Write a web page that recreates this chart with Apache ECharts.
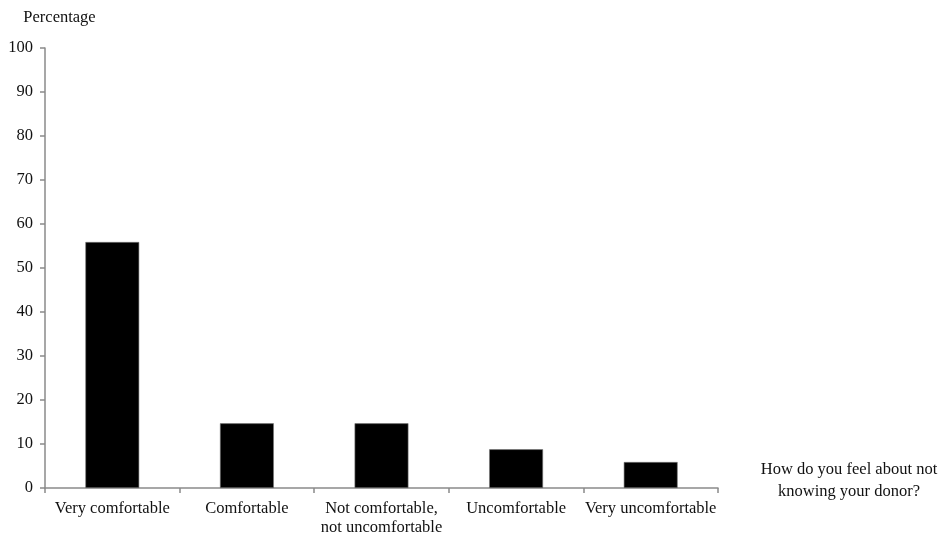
<!DOCTYPE html>
<html>
<head>
<meta charset="utf-8">
<script src="https://cdn.jsdelivr.net/npm/echarts@6/dist/echarts.min.js"></script>
<style>
html,body{margin:0;padding:0;background:#fff;}
#chart{width:941px;height:533px;}
</style>
</head>
<body>
<div id="chart"></div>
<script>
const categories = ['Very comfortable', 'Comfortable', 'Not comfortable,\nnot uncomfortable', 'Uncomfortable', 'Very uncomfortable'];
const percentages = [55.9, 14.7, 14.7, 8.8, 5.9];
const yTicks = { min: 0, max: 100, interval: 10 };
const xAxisTitleLines = ['How do you feel about not', 'knowing your donor?'];
const yAxisTitle = 'Percentage';

const font = '"Liberation Serif", "Times New Roman", serif';
const xAxisTitle = xAxisTitleLines.map(function (s) { return '{t|' + s + '}'; }).join('\n') + '\n{s| }';
const chart = echarts.init(document.getElementById('chart'), null, { renderer: 'canvas' });
chart.setOption({
  animation: false,
  backgroundColor: '#fff',
  grid: { left: 45, right: 223, top: 48, bottom: 45, containLabel: false, outerBoundsMode: 'none' },
  xAxis: {
    type: 'category',
    data: categories,
    name: xAxisTitle,
    nameLocation: 'end',
    nameGap: 131,
    nameTextStyle: {
      fontFamily: font, fontSize: 16.5, color: '#111', align: 'center', verticalAlign: 'middle',
      rich: {
        t: { fontFamily: font, fontSize: 16.5, color: '#111', lineHeight: 22, align: 'center' },
        s: { fontSize: 4, lineHeight: 14 }
      }
    },
    axisLine: { lineStyle: { color: '#8a8a8a', width: 1.5 } },
    axisTick: { show: true, alignWithLabel: false, length: 5, lineStyle: { color: '#8a8a8a', width: 1.5 } },
    axisLabel: { fontFamily: font, fontSize: 16.5, color: '#111', margin: 11, lineHeight: 19, interval: 0 }
  },
  yAxis: {
    type: 'value',
    min: yTicks.min,
    max: yTicks.max,
    interval: yTicks.interval,
    name: yAxisTitle,
    nameLocation: 'end',
    nameGap: 22,
    nameTextStyle: { fontFamily: font, fontSize: 16.5, color: '#111', align: 'center', padding: [0, 0, 0, 29] },
    axisLine: { show: true, lineStyle: { color: '#8a8a8a', width: 1.5 } },
    axisTick: { show: true, length: 5, lineStyle: { color: '#8a8a8a', width: 1.5 } },
    axisLabel: { fontFamily: font, fontSize: 16.5, color: '#111', margin: 12 },
    splitLine: { show: false }
  },
  series: [{
    type: 'bar',
    data: percentages,
    barWidth: '40%',
    itemStyle: { color: '#000', borderColor: '#777', borderWidth: 0.6 }
  }]
});
</script>
</body>
</html>
